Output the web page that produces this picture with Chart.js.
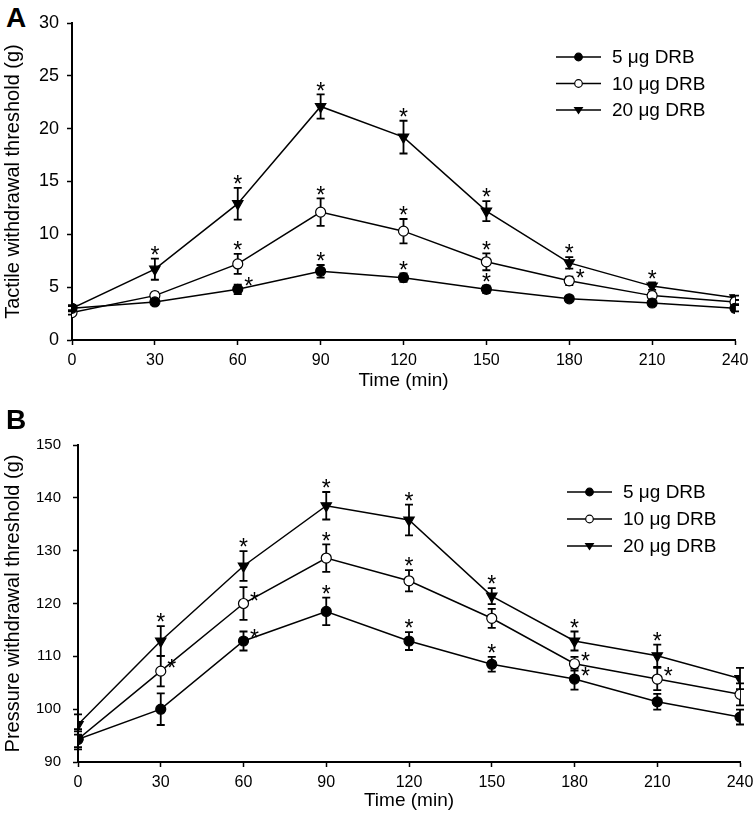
<!DOCTYPE html>
<html>
<head>
<meta charset="utf-8">
<title>DRB withdrawal thresholds</title>
<script src="https://cdn.jsdelivr.net/npm/chart.js@4/dist/chart.umd.min.js"></script>
<style>
    html, body { margin: 0; padding: 0; background: #fff; }
    body { position: relative; width: 755px; height: 820px; overflow: hidden; }
    canvas { position: absolute; left: 0; }
    #chartA { top: 0; }
    #chartB { top: 390px; }
    .panel-letter {
        position: absolute;
        left: 6px;
        font: bold 28px "Liberation Sans", Arial, sans-serif;
        line-height: 1;
    }
</style>
</head>
<body>
<div class="panel-letter" style="top: 4px;">A</div>
<canvas id="chartA" width="755" height="390" style="width:755px;height:390px;"></canvas>
<canvas id="chartB" width="755" height="430" style="width:755px;height:430px;"></canvas>
<div class="panel-letter" style="top: 406px;">B</div>

<script>
const FONT = "'Liberation Sans', Arial, sans-serif";

// time points (min)
const times = [0, 30, 60, 90, 120, 150, 180, 210, 240];
const doseLabels = ['5 μg DRB', '10 μg DRB', '20 μg DRB'];

// panel A: tactile withdrawal threshold (g), mean and SEM
const tactile5 = [3.0, 3.6, 4.8, 6.5, 5.9, 4.8, 3.9, 3.5, 3.0];
const tactile5Err = [0.3, 0.3, 0.45, 0.6, 0.4, 0.35, 0.2, 0.3, 0.3];
const tactile10 = [2.6, 4.2, 7.2, 12.1, 10.3, 7.4, 5.6, 4.2, 3.6];
const tactile10Err = [0.2, 0.3, 0.95, 1.3, 1.15, 0.8, 0.4, 0.3, 0.2];
const tactile20 = [3.0, 6.7, 12.9, 22.1, 19.2, 12.2, 7.3, 5.1, 4.0];
const tactile20Err = [0.2, 1.0, 1.5, 1.15, 1.55, 0.95, 0.55, 0.35, 0.2];

// significance marks: 'a' = asterisk above the bar, 'r' = asterisk right of the point
const tactile5Sig = ['', '', 'r', 'a', 'a', 'a', '', '', ''];
const tactile10Sig = ['', '', 'a', 'a', 'a', 'a', 'r', '', ''];
const tactile20Sig = ['', 'a', 'a', 'a', 'a', 'a', 'a', 'a', ''];

// panel B: pressure withdrawal threshold (g)
const pressure5 = [94.3, 100.0, 112.9, 118.5, 112.9, 108.5, 105.7, 101.4, 98.5];
const pressure5Err = [1.9, 3.0, 1.8, 2.6, 1.7, 1.4, 2.0, 1.5, 1.4];
const pressure10 = [94.3, 107.2, 120.0, 128.6, 124.3, 117.2, 108.6, 105.7, 102.8];
const pressure10Err = [1.5, 2.9, 3.1, 2.6, 2.0, 1.8, 1.3, 2.1, 2.1];
const pressure20 = [97.1, 112.9, 127.1, 138.5, 135.8, 121.4, 112.9, 110.1, 105.8];
const pressure20Err = [1.9, 2.8, 2.8, 2.6, 2.9, 1.5, 1.8, 2.1, 2.0];

const pressure5Sig = ['', '', 'r', 'a', 'a', 'a', 'r', '', ''];
const pressure10Sig = ['', 'r', 'r', 'a', 'a', '', 'r', 'r', ''];
const pressure20Sig = ['', 'a', 'a', 'a', 'a', 'a', 'a', 'a', ''];

const markerStyles = [
    { pointStyle: 'circle', radius: 5, fill: '#000' },
    { pointStyle: 'circle', radius: 5, fill: '#fff' },
    { pointStyle: 'triangle', radius: 6, fill: '#000' },
];

Chart.defaults.color = '#000';
Chart.defaults.font.family = FONT;

const drawMarker = (ctx, style, x, y, r) => {
    ctx.save();
    ctx.fillStyle = style.fill;
    ctx.strokeStyle = '#000';
    ctx.lineWidth = 1.2;
    ctx.beginPath();
    if (style.pointStyle === 'triangle') {
        ctx.moveTo(x - r, y - r * 0.6);
        ctx.lineTo(x + r, y - r * 0.6);
        ctx.lineTo(x, y + r * 0.9);
        ctx.closePath();
    } else {
        ctx.arc(x, y, r, 0, Math.PI * 2);
    }
    ctx.fill();
    ctx.stroke();
    ctx.restore();
};

const errorBarPlugin = {
    id: 'errorBars',
    beforeDatasetsDraw(chart) {
        const { ctx } = chart;
        const yScale = chart.scales.y;
        chart.data.datasets.forEach((ds, i) => {
            const meta = chart.getDatasetMeta(i);
            meta.data.forEach((pt, j) => {
                const v = ds.data[j].y;
                const e = ds.errors[j];
                const top = yScale.getPixelForValue(v + e);
                const bottom = yScale.getPixelForValue(v - e);
                ctx.save();
                ctx.strokeStyle = '#000';
                ctx.lineWidth = 1.8;
                ctx.beginPath();
                ctx.moveTo(pt.x, top);
                ctx.lineTo(pt.x, bottom);
                ctx.moveTo(pt.x - 4, top);
                ctx.lineTo(pt.x + 4, top);
                ctx.moveTo(pt.x - 4, bottom);
                ctx.lineTo(pt.x + 4, bottom);
                ctx.stroke();
                ctx.restore();
            });
        });
    },
    afterDatasetsDraw(chart) {
        const { ctx } = chart;
        const yScale = chart.scales.y;
        ctx.save();
        ctx.fillStyle = '#000';
        ctx.font = `23px ${FONT}`;
        ctx.textAlign = 'center';
        ctx.textBaseline = 'alphabetic';
        chart.data.datasets.forEach((ds, i) => {
            const meta = chart.getDatasetMeta(i);
            meta.data.forEach((pt, j) => {
                const mark = ds.sig[j];
                if (!mark) {
                    return;
                }
                let cx = pt.x;
                let cy;
                if (mark === 'a') {
                    cy = yScale.getPixelForValue(ds.data[j].y + ds.errors[j]) - 9;
                } else {
                    cx = pt.x + 11;
                    cy = pt.y - 8;
                }
                ctx.fillText('*', cx, cy + 13.2);
            });
        });
        ctx.restore();
    },
};

const lineLegendPlugin = {
    id: 'lineLegend',
    afterDraw(chart, args, opts) {
        const { ctx } = chart;
        ctx.save();
        chart.data.datasets.forEach((ds, i) => {
            const y = opts.y + i * opts.rowGap;
            ctx.strokeStyle = '#000';
            ctx.lineWidth = 1.5;
            ctx.beginPath();
            ctx.moveTo(opts.x, y);
            ctx.lineTo(opts.x + opts.lineLen, y);
            ctx.stroke();
            drawMarker(ctx, markerStyles[i], opts.x + opts.lineLen / 2, y, 3.8);
            ctx.fillStyle = '#000';
            ctx.font = `19px ${FONT}`;
            ctx.textAlign = 'left';
            ctx.textBaseline = 'middle';
            ctx.fillText(ds.label, opts.x + opts.lineLen + 11, y + 1);
        });
        ctx.restore();
    },
};

const makeDatasets = (series, errors, sigs) => series.map((values, i) => ({
    label: doseLabels[i],
    data: times.map((t, j) => ({ x: t, y: values[j] })),
    errors: errors[i],
    sig: sigs[i],
    borderColor: '#000',
    borderWidth: 1.5,
    pointStyle: markerStyles[i].pointStyle,
    rotation: markerStyles[i].pointStyle === 'triangle' ? 180 : 0,
    pointRadius: markerStyles[i].radius,
    pointBackgroundColor: markerStyles[i].fill,
    pointBorderColor: '#000',
    pointBorderWidth: 1.2,
    tension: 0,
    fill: false,
}));

const makeChart = (canvasId, cfg) => new Chart(document.getElementById(canvasId), {
    type: 'line',
    data: { datasets: makeDatasets(cfg.series, cfg.errors, cfg.sigs) },
    plugins: [errorBarPlugin, lineLegendPlugin],
    options: {
        responsive: false,
        animation: false,
        events: [],
        layout: { padding: cfg.padding },
        plugins: {
            legend: { display: false },
            tooltip: { enabled: false },
            lineLegend: cfg.legend,
        },
        scales: {
            x: {
                type: 'linear',
                min: 0,
                max: 240,
                afterBuildTicks: (scale) => {
                    scale.ticks = times.map((t) => ({ value: t }));
                },
                afterFit: (scale) => {
                    scale.height = cfg.xHeight;
                    scale.paddingLeft = 0;
                    scale.paddingRight = 0;
                },
                ticks: { font: { size: 16 }, padding: 6, maxRotation: 0 },
                grid: { drawOnChartArea: false, drawTicks: true, tickLength: 5, tickColor: '#000', tickWidth: 1.5 },
                border: { display: true, color: '#000', width: 2 },
                title: {
                    display: true,
                    text: 'Time (min)',
                    font: { size: 19, lineHeight: 1 },
                    padding: { top: 0, bottom: cfg.xTitlePad },
                },
            },
            y: {
                min: cfg.yMin,
                max: cfg.yMax,
                afterBuildTicks: (scale) => {
                    scale.ticks = cfg.yTicks.map((t) => ({ value: t }));
                },
                afterFit: (scale) => {
                    scale.width = cfg.yWidth;
                },
                ticks: { font: { size: cfg.yTickSize }, padding: cfg.yTickPad },
                grid: { drawOnChartArea: false, drawTicks: true, tickLength: 5, tickColor: '#000', tickWidth: 1.5 },
                border: { display: true, color: '#000', width: 2 },
                title: {
                    display: true,
                    text: cfg.yTitle,
                    font: { size: 20, lineHeight: 1 },
                    padding: { top: 3, bottom: 0 },
                },
            },
        },
    },
});

const tactileTicks = [0, 5, 10, 15, 20, 25, 30];
const pressureTicks = [90, 100, 110, 120, 130, 140, 150];

makeChart('chartA', {
    series: [tactile5, tactile10, tactile20],
    errors: [tactile5Err, tactile10Err, tactile20Err],
    sigs: [tactile5Sig, tactile10Sig, tactile20Sig],
    yMin: 0,
    yMax: 30,
    yTicks: tactileTicks,
    yTitle: 'Tactile withdrawal threshold (g)',
    yTickSize: 18,
    yTickPad: 8,
    yWidth: 72,
    xHeight: 50,
    xTitlePad: 0,
    padding: { top: 23, right: 20, left: 0, bottom: 0 },
    legend: { x: 556, y: 57, rowGap: 26.5, lineLen: 45 },
});

makeChart('chartB', {
    series: [pressure5, pressure10, pressure20],
    errors: [pressure5Err, pressure10Err, pressure20Err],
    sigs: [pressure5Sig, pressure10Sig, pressure20Sig],
    yMin: 90,
    yMax: 150,
    yTicks: pressureTicks,
    yTitle: 'Pressure withdrawal threshold (g)',
    yTickSize: 15,
    yTickPad: 12,
    yWidth: 78,
    xHeight: 58,
    xTitlePad: 10,
    padding: { top: 55, right: 15, left: 0, bottom: 0 },
    legend: { x: 567, y: 102, rowGap: 27, lineLen: 45 },
});
</script>
</body>
</html>
